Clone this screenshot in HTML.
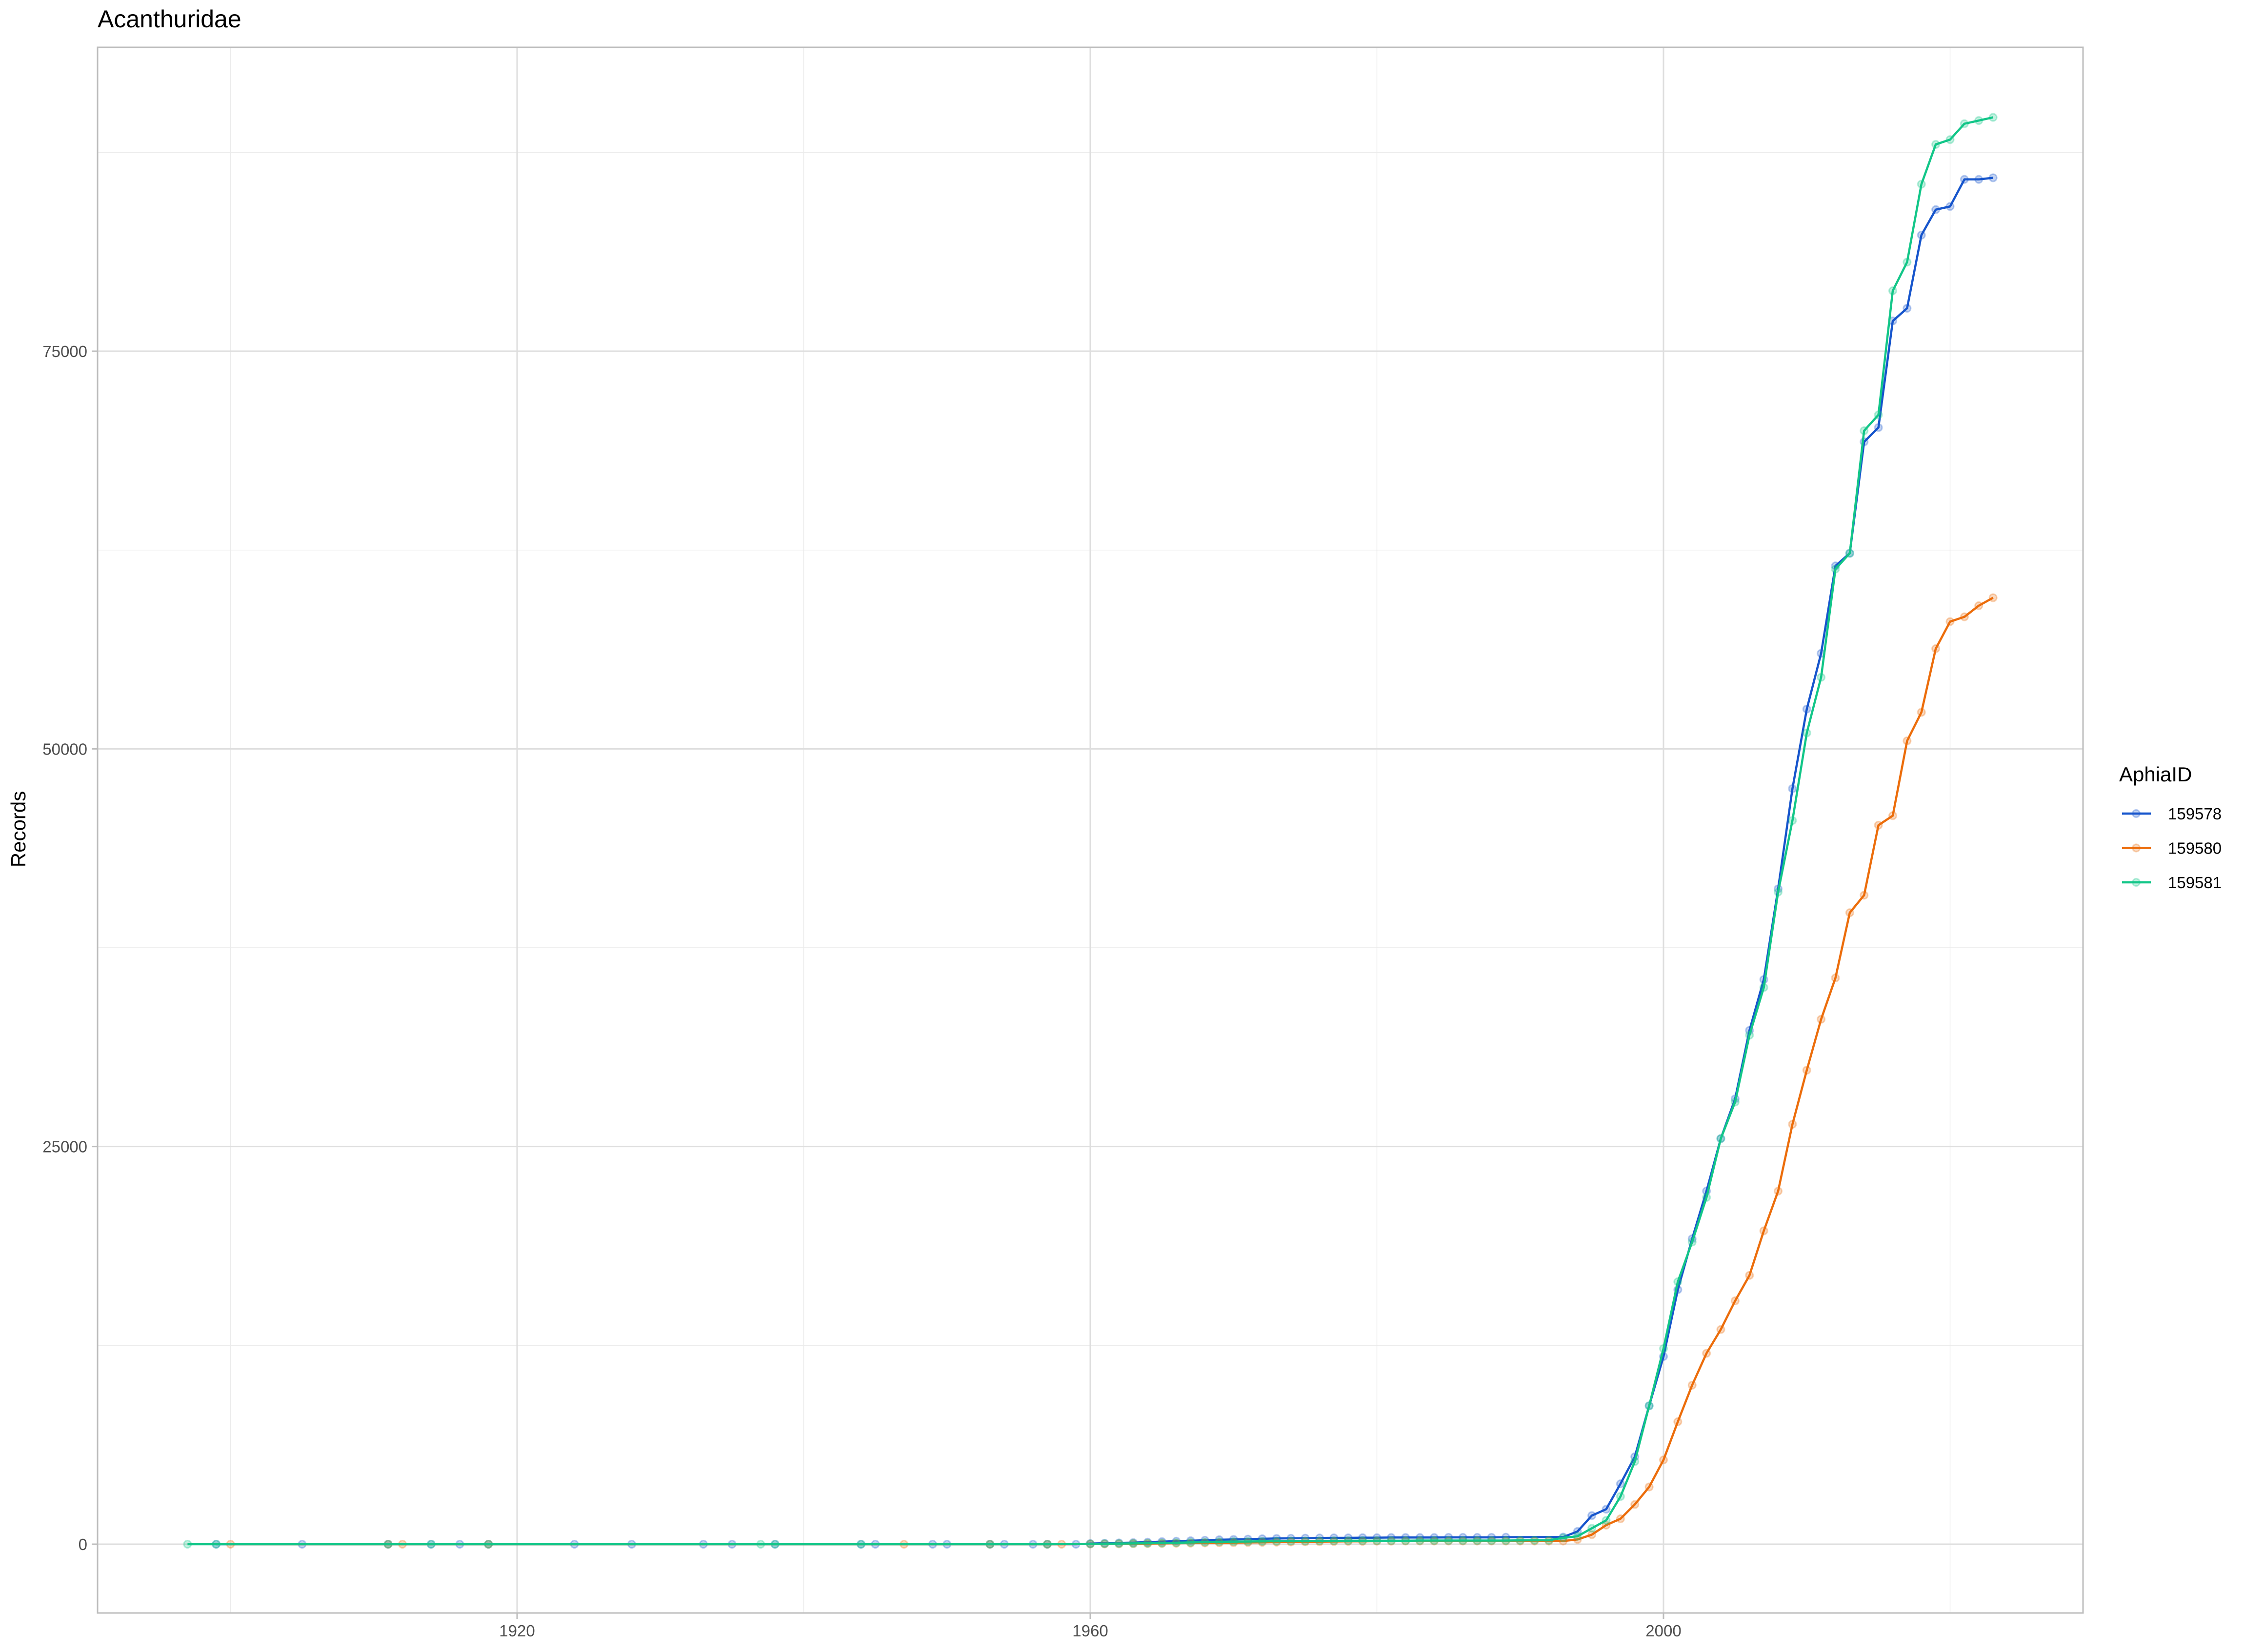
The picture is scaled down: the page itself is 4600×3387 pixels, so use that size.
<!DOCTYPE html>
<html><head><meta charset="utf-8">
<style>
html,body{margin:0;padding:0;background:#fff;}
svg{display:block;font-family:"Liberation Sans",sans-serif;}
</style></head>
<body>
<svg id="chart" width="4600" height="3387" viewBox="0 0 4600 3387" xmlns="http://www.w3.org/2000/svg">
<text x="200" y="56" font-size="50" fill="#000">Acanthuridae</text>
<g id="grid"></g>
<rect x="200" y="97" width="4070" height="3210" fill="none" stroke="#bdbdbd" stroke-width="3"/>
<g id="axes"></g>
<g id="series"></g>
<text transform="translate(52,1700) rotate(-90)" text-anchor="middle" font-size="42" fill="#000">Records</text>
<g id="legend">
<text x="4344" y="1602" font-size="42" fill="#000">AphiaID</text>
</g>
</svg>
<script>
const xTicks=[1920,1960,2000];
const xMinor=[1900,1940,1980,2020];
const yTicks=[0,25000,50000,75000];
const yMinor=[12500,37500,62500,87500];
const seriesIds=["159578","159580","159581"];
const seriesColors=["#1655cc","#ec6d0b","#12c688"];
function range(a,b){const r=[];for(let i=a;i<=b;i++)r.push(i);return r;}
const yearsBlue=[1899,1905,1911,1914,1916,1918,1924,1928,1933,1935,1938,1944,1945,1949,1950,1953,1954,1956,1957,1959].concat(range(1960,1989)).concat(range(1993,2023));
const valuesBlue=[0,0,0,0,0,0,0,0,0,0,0,0,0,0,0,0,0,0,0,0,
40,60,80,100,130,160,190,220,250,280,300,320,340,360,370,380,390,400,400,410,410,420,420,420,420,430,430,430,430,440,
450,
800,1800,2200,3800,5500,8700,11800,16000,19200,22200,25500,28000,32300,35500,41200,47500,52500,56000,61500,62300,69300,70200,76900,77700,82300,83900,84100,85800,85800,85900];
const yearsOrange=[1900,1911,1912,1918,1947,1953,1957,1958].concat(range(1960,2023));
const valuesOrange=[0,0,0,0,0,0,0,0,
10,15,20,30,40,50,60,70,80,90,100,110,120,130,140,150,160,170,180,180,190,190,200,200,200,200,200,200,200,200,200,200,200,200,
300,
600,1200,1600,2500,3600,5300,7700,10000,12000,13500,15300,16900,19700,22200,26400,29800,33000,35600,39700,40800,45200,45800,50500,52300,56300,58000,58300,59000,59500,59600];
const yearsGreen=[1897,1899,1911,1914,1918,1937,1938,1944,1953,1957].concat(range(1960,2023));
const valuesGreen=[0,0,0,0,0,0,0,0,0,0,
20,30,40,50,60,70,90,110,130,150,160,170,180,190,200,200,210,210,220,220,220,220,220,230,230,230,230,230,230,230,
240,250,250,400,
500,1000,1500,3000,5200,8700,12300,16500,19000,21800,25500,27800,32000,35000,41000,45500,51000,54500,61300,62300,70000,71000,78800,80600,85500,88000,88300,89300,89500,89700];
const allYears=[yearsBlue,yearsOrange,yearsGreen];
const allValues=[valuesBlue,valuesOrange,valuesGreen];

const NS="http://www.w3.org/2000/svg";
function X(yr){return 1060+(yr-1920)*29.375;}
function Y(v){return 3166-v*0.032613;}
function mk(tag,attrs,parent){const e=document.createElementNS(NS,tag);for(const k in attrs)e.setAttribute(k,attrs[k]);parent.appendChild(e);return e;}
const grid=document.getElementById('grid'),axes=document.getElementById('axes'),ser=document.getElementById('series'),leg=document.getElementById('legend');
xMinor.forEach(t=>{const l=mk('line',{x1:X(t),x2:X(t),y1:97,y2:3307,stroke:'#ebebeb','stroke-width':1.5},grid);

});
yMinor.forEach(t=>{const l=mk('line',{x1:200,x2:4270,y1:Y(t),y2:Y(t),stroke:'#ebebeb','stroke-width':1.5},grid);

});
xTicks.forEach(t=>{const l=mk('line',{x1:X(t),x2:X(t),y1:97,y2:3307,stroke:'#dedede','stroke-width':3},grid);


const tk=mk('line',{x1:X(t),x2:X(t),y1:3307,y2:3319,stroke:'#bdbdbd','stroke-width':3},axes);


const tx=mk('text',{x:X(t),y:3355,'text-anchor':'middle','font-size':33,fill:'#4d4d4d'},axes);tx.textContent=t;

});
yTicks.forEach(t=>{const l=mk('line',{x1:200,x2:4270,y1:Y(t),y2:Y(t),stroke:'#dedede','stroke-width':3},grid);


const tk=mk('line',{x1:188,x2:200,y1:Y(t),y2:Y(t),stroke:'#bdbdbd','stroke-width':3},axes);


const tx=mk('text',{x:179,y:Y(t)+12,'text-anchor':'end','font-size':33,fill:'#4d4d4d'},axes);tx.textContent=t;

});
seriesIds.forEach((id,i)=>{
  const g=mk('g',{},ser);
  
  
  const ys=allYears[i],vs=allValues[i];
  ys.forEach((yr,j)=>{const c=mk('circle',{cx:X(yr),cy:Y(vs[j]),r:7.5,fill:seriesColors[i],'fill-opacity':0.25,stroke:seriesColors[i],'stroke-opacity':0.3,'stroke-width':3},g);
    
    });
  const p=mk('polyline',{points:ys.map((yr,j)=>X(yr)+','+Y(vs[j])).join(' '),fill:'none',stroke:seriesColors[i],'stroke-width':4.5,'stroke-linejoin':'round'},g);
  
  
  const ly=1668+i*70.5;
  const e=mk('g',{},leg);
  
  
  mk('line',{x1:4350,x2:4409,y1:ly,y2:ly,stroke:seriesColors[i],'stroke-width':4.5},e);
  mk('circle',{cx:4379,cy:ly,r:7.5,fill:seriesColors[i],'fill-opacity':0.25,stroke:seriesColors[i],'stroke-opacity':0.3,'stroke-width':3},e);
  const t=mk('text',{x:4444,y:ly+12,'font-size':33,fill:'#000'},e);t.textContent=id;
});
</script>
</body></html>
